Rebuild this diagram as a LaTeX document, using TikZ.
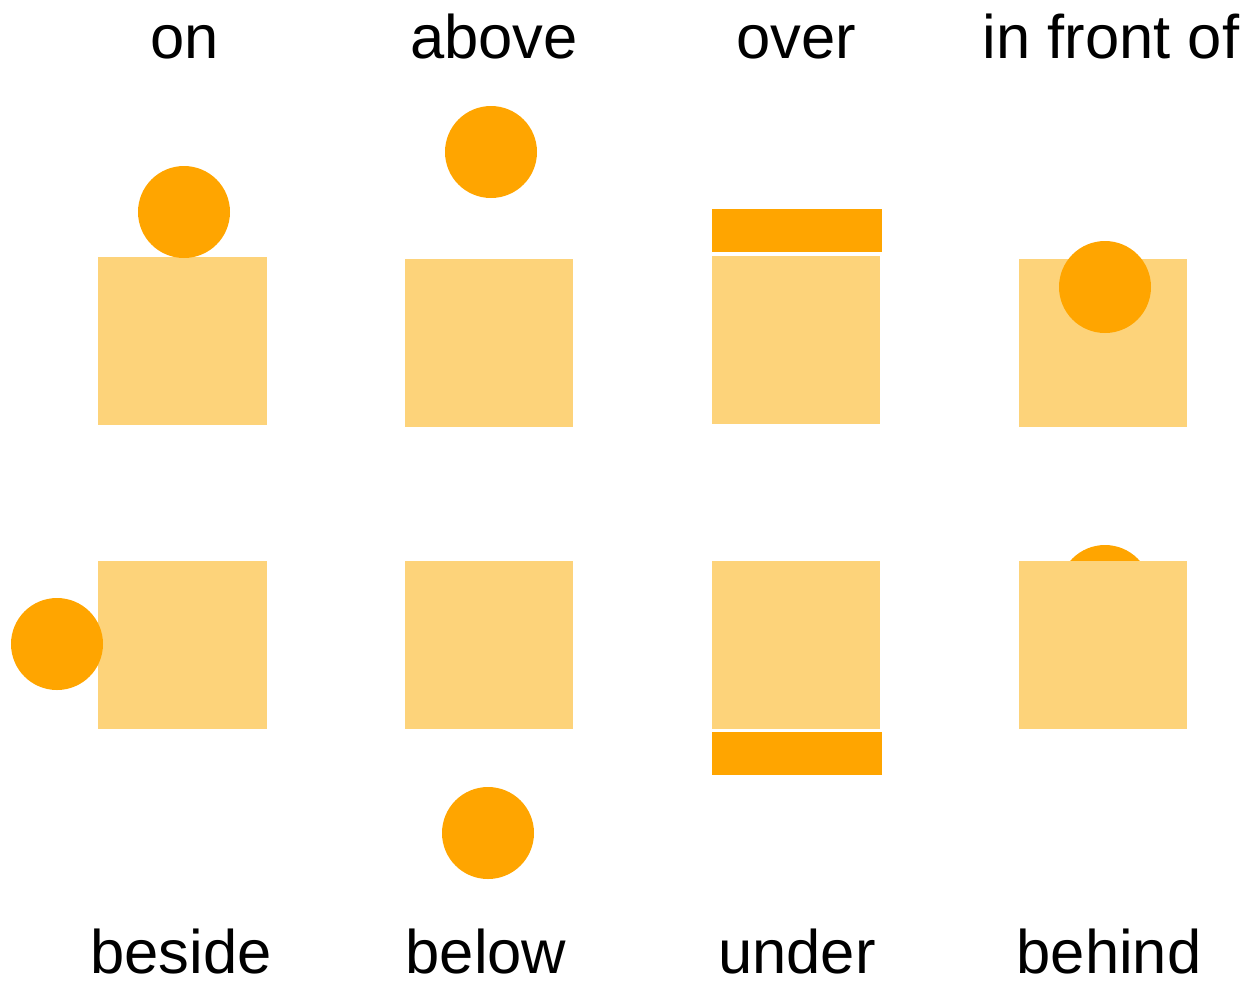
\documentclass[tikz,border=0pt]{standalone}
\usepackage{fontspec}
\setmainfont{Liberation Sans}
\definecolor{boxfill}{HTML}{FDD37A}
\definecolor{ballfill}{HTML}{FFA500}
\begin{document}
\begin{tikzpicture}[x=0.2mm,y=-0.2mm,
  box/.style={fill=boxfill,minimum size=3.36cm,inner sep=0pt},
  ball/.style={circle,fill=ballfill,minimum size=1.84cm,inner sep=0pt},
  bar/.style={fill=ballfill,minimum width=3.4cm,minimum height=0.86cm,inner sep=0pt},
  word/.style={anchor=base,inner sep=0pt,font=\fontsize{35}{42}\selectfont}]
\useasboundingbox (0,0) rectangle (1254,982);
% top row
\node[word] (tOn) at (185,58) {on};
\node[word] (tAbove) at (494,58) {above};
\node[word] (tOver) at (796,58) {over};
\node[word] (tFront) at (1111,58) {in front of};
\node[box] (sOn) at (182.5,341) {};
\node[ball] (bOn) at (184,212) {};
\node[box] (sAbove) at (489,343) {};
\node[ball] (bAbove) at (491,152) {};
\node[box] (sOver) at (796,340) {};
\node[bar] (rOver) at (797,230.5) {};
\node[box] (sFront) at (1103,343) {};
\node[ball] (bFront) at (1105,287) {};
% bottom row
\node[box] (sBeside) at (182.5,645) {};
\node[ball] (bBeside) at (57,644) {};
\node[box] (sBelow) at (489,645) {};
\node[ball] (bBelow) at (488,833) {};
\node[box] (sUnder) at (796,645) {};
\node[bar] (rUnder) at (797,753.5) {};
\node[ball] (bBehind) at (1105,591) {};
\node[box] (sBehind) at (1103,645) {};
\node[word] (tBeside) at (181,973) {beside};
\node[word] (tBelow) at (486,973) {below};
\node[word] (tUnder) at (797,973) {under};
\node[word] (tBehind) at (1109,973) {behind};
\end{tikzpicture}
\end{document}
